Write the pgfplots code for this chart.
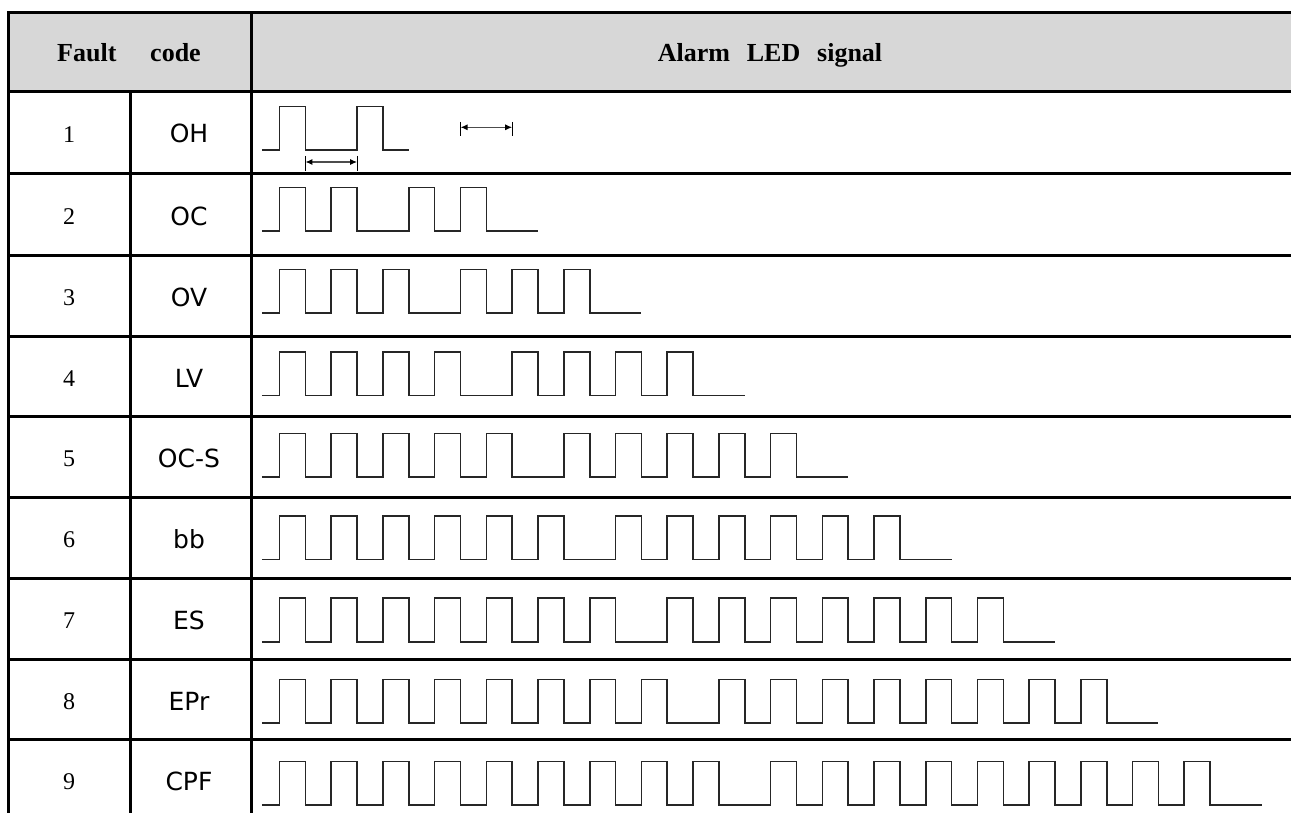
\documentclass[border=0pt]{standalone}
\usepackage{pgfplots}
\pgfplotsset{compat=1.18}
\usetikzlibrary{arrows.meta}
\usepackage{fontspec}
\setmainfont{Liberation Serif}
\newfontfamily\lcd{DejaVu Sans}
\definecolor{hdr}{RGB}{215,215,215}
\tikzset{
  num/.style={anchor=base, font=\fontsize{12}{14}\selectfont},
  cod/.style={anchor=base, font=\fontsize{12.5}{14}\selectfont\lcd},
}
\begin{document}
\begin{tikzpicture}
\begin{axis}[
  scale only axis, width=645.5pt, height=406.5pt,
  xmin=0, xmax=1291, ymin=0, ymax=813, y dir=reverse,
  hide axis, clip=true,
  wave/.style={draw=black!85, line width=0.8pt, const plot, mark=none},
]
% header fill
\fill[hdr] (8,12.5) rectangle (1291,92);
% grid
\draw[line width=1.5pt, line cap=rect] (8,12.5) -- (1291,12.5);
\draw[line width=1.5pt, line cap=rect] (8,12.5) -- (8,813);
\draw[line width=1.5pt, line cap=rect] (8,92) -- (1291,92);
\draw[line width=1.5pt, line cap=rect] (8,174) -- (1291,174);
\draw[line width=1.5pt, line cap=rect] (8,255) -- (1291,255);
\draw[line width=1.5pt, line cap=rect] (8,336) -- (1291,336);
\draw[line width=1.5pt, line cap=rect] (8,416) -- (1291,416);
\draw[line width=1.5pt, line cap=rect] (8,497) -- (1291,497);
\draw[line width=1.5pt, line cap=rect] (8,578) -- (1291,578);
\draw[line width=1.5pt, line cap=rect] (8,659) -- (1291,659);
\draw[line width=1.5pt, line cap=rect] (8,739) -- (1291,739);
\draw[line width=1.5pt, line cap=rect] (130,92) -- (130,813);
\draw[line width=1.5pt, line cap=rect] (251,12.5) -- (251,813);
% header text
\node[anchor=base, font=\fontsize{13}{15}\selectfont\bfseries] at (129,62) {Fault\hspace{1.3em}code};
\node[anchor=base, font=\fontsize{13}{15}\selectfont\bfseries] at (770,62) {Alarm\hspace{0.65em}LED\hspace{0.65em}signal};
% row labels
\node[num] at (69,142.3) {1}; \node[cod] at (189,143) {OH};
\node[num] at (69,224.3) {2}; \node[cod] at (189,225) {OC};
\node[num] at (69,305.3) {3}; \node[cod] at (189,306) {OV};
\node[num] at (69,386.3) {4}; \node[cod] at (189,387) {LV};
\node[num] at (69,466.3) {5}; \node[cod] at (189,467) {OC-S};
\node[num] at (69,547.3) {6}; \node[cod] at (189,548) {bb};
\node[num] at (69,628.3) {7}; \node[cod] at (189,629) {ES};
\node[num] at (69,709.3) {8}; \node[cod] at (189,710) {EPr};
\node[num] at (69,789.3) {9}; \node[cod] at (189,790) {CPF};
% waveforms: t = time in pulse units, s = state (0 low, 1 high)
\addplot[wave] table[row sep=\\, x expr={279.5+25.85*\thisrow{t}}, y expr={150-43.5*\thisrow{s}}] {
t s\\ -0.68 0\\ 0 1\\ 1 0\\ 3 1\\ 4 0\\ 5 0\\
};
\addplot[wave] table[row sep=\\, x expr={279.5+25.85*\thisrow{t}}, y expr={231-43.5*\thisrow{s}}] {
t s\\ -0.68 0\\ 0 1\\ 1 0\\ 2 1\\ 3 0\\ 5 1\\ 6 0\\ 7 1\\ 8 0\\ 10 0\\
};
\addplot[wave] table[row sep=\\, x expr={279.5+25.85*\thisrow{t}}, y expr={313-43.5*\thisrow{s}}] {
t s\\ -0.68 0\\ 0 1\\ 1 0\\ 2 1\\ 3 0\\ 4 1\\ 5 0\\ 7 1\\ 8 0\\ 9 1\\ 10 0\\ 11 1\\ 12 0\\ 14 0\\
};
\addplot[wave] table[row sep=\\, x expr={279.5+25.85*\thisrow{t}}, y expr={395.3-43.5*\thisrow{s}}] {
t s\\ -0.68 0\\ 0 1\\ 1 0\\ 2 1\\ 3 0\\ 4 1\\ 5 0\\ 6 1\\ 7 0\\ 9 1\\ 10 0\\ 11 1\\ 12 0\\ 13 1\\ 14 0\\ 15 1\\ 16 0\\ 18 0\\
};
\addplot[wave] table[row sep=\\, x expr={279.5+25.85*\thisrow{t}}, y expr={477-43.5*\thisrow{s}}] {
t s\\ -0.68 0\\ 0 1\\ 1 0\\ 2 1\\ 3 0\\ 4 1\\ 5 0\\ 6 1\\ 7 0\\ 8 1\\ 9 0\\ 11 1\\ 12 0\\ 13 1\\ 14 0\\ 15 1\\ 16 0\\ 17 1\\ 18 0\\ 19 1\\ 20 0\\ 22 0\\
};
\addplot[wave] table[row sep=\\, x expr={279.5+25.85*\thisrow{t}}, y expr={559.3-43.5*\thisrow{s}}] {
t s\\ -0.68 0\\ 0 1\\ 1 0\\ 2 1\\ 3 0\\ 4 1\\ 5 0\\ 6 1\\ 7 0\\ 8 1\\ 9 0\\ 10 1\\ 11 0\\ 13 1\\ 14 0\\ 15 1\\ 16 0\\ 17 1\\ 18 0\\ 19 1\\ 20 0\\ 21 1\\ 22 0\\ 23 1\\ 24 0\\ 26 0\\
};
\addplot[wave] table[row sep=\\, x expr={279.5+25.85*\thisrow{t}}, y expr={641.7-43.5*\thisrow{s}}] {
t s\\ -0.68 0\\ 0 1\\ 1 0\\ 2 1\\ 3 0\\ 4 1\\ 5 0\\ 6 1\\ 7 0\\ 8 1\\ 9 0\\ 10 1\\ 11 0\\ 12 1\\ 13 0\\ 15 1\\ 16 0\\ 17 1\\ 18 0\\ 19 1\\ 20 0\\ 21 1\\ 22 0\\ 23 1\\ 24 0\\ 25 1\\ 26 0\\ 27 1\\ 28 0\\ 30 0\\
};
\addplot[wave] table[row sep=\\, x expr={279.5+25.85*\thisrow{t}}, y expr={723-43.5*\thisrow{s}}] {
t s\\ -0.68 0\\ 0 1\\ 1 0\\ 2 1\\ 3 0\\ 4 1\\ 5 0\\ 6 1\\ 7 0\\ 8 1\\ 9 0\\ 10 1\\ 11 0\\ 12 1\\ 13 0\\ 14 1\\ 15 0\\ 17 1\\ 18 0\\ 19 1\\ 20 0\\ 21 1\\ 22 0\\ 23 1\\ 24 0\\ 25 1\\ 26 0\\ 27 1\\ 28 0\\ 29 1\\ 30 0\\ 31 1\\ 32 0\\ 34 0\\
};
\addplot[wave] table[row sep=\\, x expr={279.5+25.85*\thisrow{t}}, y expr={805-43.5*\thisrow{s}}] {
t s\\ -0.68 0\\ 0 1\\ 1 0\\ 2 1\\ 3 0\\ 4 1\\ 5 0\\ 6 1\\ 7 0\\ 8 1\\ 9 0\\ 10 1\\ 11 0\\ 12 1\\ 13 0\\ 14 1\\ 15 0\\ 16 1\\ 17 0\\ 19 1\\ 20 0\\ 21 1\\ 22 0\\ 23 1\\ 24 0\\ 25 1\\ 26 0\\ 27 1\\ 28 0\\ 29 1\\ 30 0\\ 31 1\\ 32 0\\ 33 1\\ 34 0\\ 35 1\\ 36 0\\ 38 0\\
};
% dimension arrows in row 1
\draw[line width=0.6pt, black!70, {Latex[length=3.5pt,width=3pt,black]}-{Latex[length=3.5pt,width=3pt,black]}] (305.4,162) -- (357.1,162);
\draw[line width=0.6pt] (305.4,156) -- (305.4,171);
\draw[line width=0.6pt] (357.1,156) -- (357.1,171);
\draw[line width=0.6pt, black!70, {Latex[length=3.5pt,width=3pt,black]}-{Latex[length=3.5pt,width=3pt,black]}] (460.5,127.3) -- (512.2,127.3);
\draw[line width=0.6pt] (460.5,122) -- (460.5,136);
\draw[line width=0.6pt] (512.2,122) -- (512.2,136);
\end{axis}
\pgfresetboundingbox
\useasboundingbox (current axis.south west) rectangle (current axis.north east);
\end{tikzpicture}
\end{document}
